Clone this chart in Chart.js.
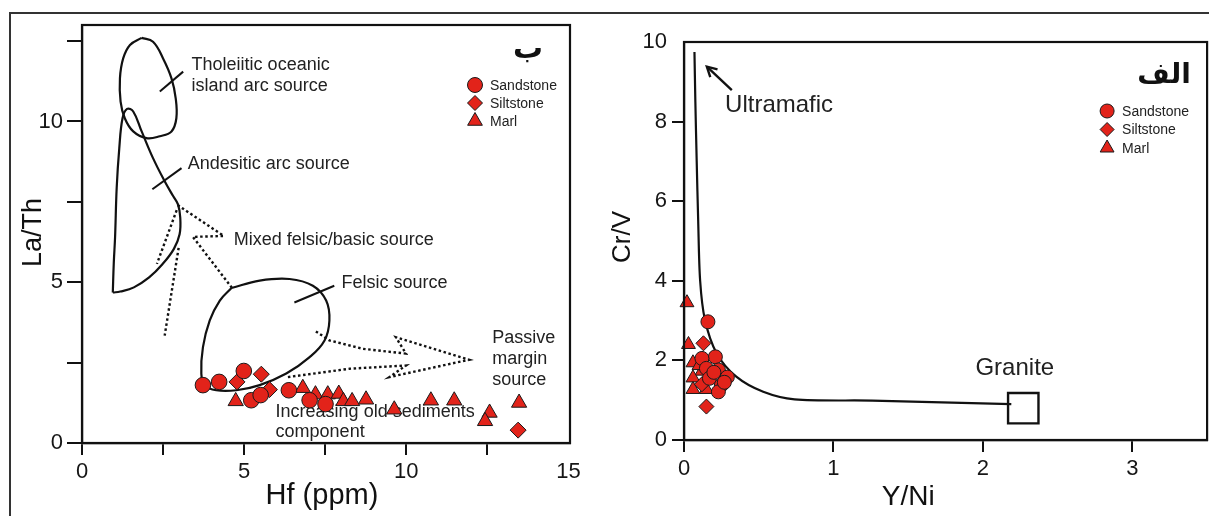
<!DOCTYPE html>
<html><head><meta charset="utf-8">
<script src="https://cdn.jsdelivr.net/npm/chart.js@4.4.1/dist/chart.umd.min.js"></script>
<style>
html,body{margin:0;padding:0;background:#fff;}
#wrap{position:relative;width:1209px;height:516px;overflow:hidden;background:#fff;}
#frame{position:absolute;left:9px;top:12px;width:1400px;height:700px;border-left:2px solid #333;border-top:2px solid #333;}
canvas{position:absolute;top:0;}
#c1{left:0;}
#c2{left:600px;}
</style></head><body>
<div id="wrap"><div id="frame"></div>
<canvas id="c1" width="600" height="516"></canvas>
<canvas id="c2" width="631" height="516"></canvas></div>
<script>
// ================= LEFT PANEL: La/Th vs Hf (ppm) =================
const hfTickLabels = [0, 5, 10, 15];
const laThTickLabels = [0, 5, 10];
const sandstoneHf   = [3.73, 4.23, 4.99, 5.22, 5.51, 6.38, 7.02, 7.51];
const sandstoneLaTh = [1.80, 1.90, 2.24, 1.33, 1.49, 1.64, 1.33, 1.21];
const siltstoneHf   = [4.78, 5.53, 5.78, 13.45];
const siltstoneLaTh = [1.90, 2.14, 1.66, 0.40];
const marlHf   = [4.74, 6.81, 7.20, 7.58, 7.92, 8.06, 8.33, 8.76, 9.63, 10.76, 11.48, 12.57, 12.43, 13.48];
const marlLaTh = [1.30, 1.71, 1.51, 1.51, 1.53, 1.30, 1.30, 1.35, 1.04, 1.32, 1.32, 0.94, 0.68, 1.25];

// source-field outlines (Hf, La/Th)
const tholeiiticField = [[1.84,12.60],[1.48,12.38],[1.27,11.96],[1.17,11.34],[1.19,10.62],[1.32,10.10],[1.58,9.69],[1.99,9.48],[2.40,9.54],[2.76,9.69],[2.91,10.10],[2.89,10.72],[2.76,11.34],[2.50,11.96],[2.19,12.48],[1.84,12.60]];
const andesiticField = [[0.95,4.68],[0.98,5.60],[1.02,6.40],[1.07,7.94],[1.15,9.17],[1.25,10.10],[1.39,10.39],[1.58,10.31],[1.84,9.69],[2.19,8.86],[2.55,8.14],[2.81,7.68],[2.96,7.42],[3.03,7.01],[3.01,6.49],[2.83,6.03],[2.48,5.56],[2.07,5.15],[1.60,4.84],[1.18,4.71],[0.95,4.68]];
const felsicField = [[4.61,4.82],[5.48,5.05],[6.40,5.10],[7.12,4.89],[7.53,4.43],[7.63,3.81],[7.48,3.19],[7.02,2.67],[6.30,2.16],[5.48,1.80],[4.76,1.64],[4.14,1.64],[3.78,1.80],[3.68,2.16],[3.73,2.98],[3.94,3.81],[4.25,4.43],[4.61,4.82]];
const mixedArrow = [[2.95,7.40],[4.37,6.44],[3.42,6.41],[4.62,4.83]];
const mixedDotsA = [[2.92,7.24],[2.31,5.57]];
const mixedDotsB = [[2.98,6.07],[2.55,3.34]];
const passiveArrow = [[6.35,2.05],[8.25,2.31],[9.99,2.41],[9.48,2.05],[11.94,2.59],[9.68,3.29],[9.99,2.78],[8.66,2.93],[7.63,3.19],[7.17,3.50]];
const tholeiiticLeader = [[2.40,10.93],[3.12,11.55]];
const andesiticLeader = [[2.17,7.89],[3.07,8.55]];
const felsicLeader = [[6.55,4.37],[7.78,4.89]];

// ================= RIGHT PANEL: Cr/V vs Y/Ni =================
const yNiTickLabels = [0, 1, 2, 3];
const crVTickLabels = [0, 2, 4, 6, 8, 10];
const sandstoneYNi = [0.16, 0.21, 0.12, 0.15, 0.23, 0.29, 0.25, 0.23, 0.17, 0.20, 0.27];
const sandstoneCrV = [2.97, 2.09, 2.05, 1.80, 1.76, 1.58, 1.38, 1.21, 1.55, 1.70, 1.45];
const siltstoneYNi = [0.13, 0.15, 0.12];
const siltstoneCrV = [2.43, 0.84, 1.40];
const marlYNi = [0.02, 0.03, 0.06, 0.12, 0.06, 0.06, 0.15, 0.10];
const marlCrV = [3.45, 2.40, 1.94, 1.73, 1.56, 1.27, 1.27, 1.87];
const mixingCurve = [[0.070,9.75],[0.076,8.5],[0.085,7.0],[0.095,5.5],[0.108,4.0],[0.140,3.02],[0.218,2.18],[0.350,1.59],[0.530,1.21],[0.740,1.02],[1.260,0.99],[2.190,0.90]];
const graniteYNi = [2.27];
const graniteCrV = [0.80];
const ultramaficArrow = [[0.32,8.79],[0.153,9.38]];

// ================= styling helpers =================
const FONT = '"Liberation Sans", Arial, Helvetica, sans-serif';
const RED = '#e2231a';
const EDGE = '#1a1a1a';
const INK = '#111';

const pts = (xs, ys) => xs.map((x, i) => ({x: x, y: ys[i]}));
const pairs = arr => arr.map(p => ({x: p[0], y: p[1]}));

function series(label, xs, ys, style, r) {
  return {label, data: pts(xs, ys), pointStyle: style, pointRadius: r, pointHoverRadius: r,
    backgroundColor: RED, borderColor: EDGE, borderWidth: 1, showLine: false, order: 0, clip: false};
}
function curve(arr, extra) {
  return Object.assign({data: pairs(arr), showLine: true, pointRadius: 0, pointHoverRadius: 0,
    borderColor: INK, borderWidth: 2.2, tension: 0.4, fill: false, order: 2}, extra || {});
}
function dotted(arr) {
  return curve(arr, {borderDash: [2.5, 2.6], borderWidth: 2.4, tension: 0});
}
function straight(arr) { return curve(arr, {tension: 0, borderWidth: 2}); }

function drawMarker(ctx, style, x, y, r) {
  ctx.beginPath();
  if (style === 'circle') ctx.arc(x, y, r, 0, Math.PI * 2);
  else if (style === 'rectRot') { ctx.moveTo(x - r, y); ctx.lineTo(x, y - r); ctx.lineTo(x + r, y); ctx.lineTo(x, y + r); ctx.closePath(); }
  else { ctx.moveTo(x, y - r); ctx.lineTo(x + r * 0.866, y + r / 2); ctx.lineTo(x - r * 0.866, y + r / 2); ctx.closePath(); }
  ctx.fillStyle = RED; ctx.fill();
  ctx.lineWidth = 1; ctx.strokeStyle = EDGE; ctx.stroke();
}

function decor(cfg) {
  return {
    id: 'decor',
    beforeDatasetsDraw(chart) {
      const ctx = chart.ctx, xs = chart.scales.x, ys = chart.scales.y;
      ctx.save();
      ctx.fillStyle = '#222'; ctx.textBaseline = 'middle'; ctx.textAlign = 'left';
      for (const t of cfg.texts) {
        ctx.font = t.size + 'px ' + FONT;
        ctx.fillText(t.text, xs.getPixelForValue(t.x), ys.getPixelForValue(t.y));
      }
      if (cfg.arrow) {
        const a = cfg.arrow;
        const x1 = xs.getPixelForValue(a[0][0]), y1 = ys.getPixelForValue(a[0][1]);
        const x2 = xs.getPixelForValue(a[1][0]), y2 = ys.getPixelForValue(a[1][1]);
        ctx.strokeStyle = INK; ctx.lineWidth = 2.4; ctx.lineCap = 'butt';
        ctx.beginPath(); ctx.moveTo(x1, y1); ctx.lineTo(x2, y2); ctx.stroke();
        const ang = Math.atan2(y2 - y1, x2 - x1), L = 11;
        ctx.beginPath();
        ctx.moveTo(x2 - L * Math.cos(ang - 0.5), y2 - L * Math.sin(ang - 0.5));
        ctx.lineTo(x2, y2);
        ctx.lineTo(x2 - L * Math.cos(ang + 0.5), y2 - L * Math.sin(ang + 0.5));
        ctx.stroke();
      }
      ctx.restore();
    },
    afterDraw(chart) {
      const ctx = chart.ctx, a = chart.chartArea, xs = chart.scales.x, ys = chart.scales.y;
      ctx.save();
      // plot box
      ctx.strokeStyle = INK; ctx.lineWidth = 2.2;
      ctx.strokeRect(a.left, a.top, a.right - a.left, a.bottom - a.top);
      // axis titles
      ctx.fillStyle = INK; ctx.textAlign = 'center'; ctx.textBaseline = 'middle';
      ctx.font = cfg.xTitle.size + 'px ' + FONT;
      ctx.fillText(cfg.xTitle.text, xs.getPixelForValue(cfg.xTitle.at), a.bottom + cfg.xTitle.offset);
      ctx.save();
      ctx.font = cfg.yTitle.size + 'px ' + FONT;
      ctx.translate(a.left - cfg.yTitle.offset, ys.getPixelForValue(cfg.yTitle.at));
      ctx.rotate(-Math.PI / 2);
      ctx.fillText(cfg.yTitle.text, 0, 0);
      ctx.restore();
      // panel letter (Arabic)
      ctx.font = 'bold ' + cfg.letter.size + 'px "DejaVu Sans", sans-serif';
      ctx.fillStyle = '#111';
      ctx.fillText(cfg.letter.text, a.right - cfg.letter.dx, a.top + cfg.letter.dy);
      // legend
      const L = cfg.legend;
      ctx.font = L.size + 'px ' + FONT; ctx.textAlign = 'left';
      L.items.forEach((it, i) => {
        const y = a.top + L.dy + i * L.gap;
        drawMarker(ctx, it.style, a.right - L.markerDx, y, it.r);
        ctx.fillStyle = '#222';
        ctx.fillText(it.text, a.right - L.textDx, y + 1);
      });
      ctx.restore();
    }
  };
}

function axisCfg(min, max, step, labels, tickLen, pad, hideAt, fitFn) {
  return {
    type: 'linear', min: min, max: max, afterFit: fitFn,
    ticks: {stepSize: step, includeBounds: false, autoSkip: false, maxRotation: 0,
      callback: v => labels.includes(v) ? String(v) : '',
      font: {family: FONT, size: 22}, color: '#161616', padding: pad},
    grid: {drawOnChartArea: false, drawTicks: true, tickLength: tickLen, lineWidth: 2, color: INK,
      tickWidth: 2, tickColor: c => (c.tick && hideAt.includes(c.tick.value)) ? 'rgba(0,0,0,0)' : INK},
    border: {display: true, color: INK, width: 2.2}
  };
}

// ---------- left chart ----------
new Chart(document.getElementById('c1'), {
  type: 'scatter',
  data: {datasets: [
    series('Sandstone', sandstoneHf, sandstoneLaTh, 'circle', 7.8),
    series('Siltstone', siltstoneHf, siltstoneLaTh, 'rectRot', 8),
    series('Marl', marlHf, marlLaTh, 'triangle', 8.8),
    curve(tholeiiticField), curve(andesiticField), curve(felsicField),
    dotted(mixedArrow), dotted(mixedDotsA), dotted(mixedDotsB), dotted(passiveArrow),
    straight(tholeiiticLeader), straight(andesiticLeader), straight(felsicLeader)
  ]},
  options: {
    responsive: false, animation: false, events: [],
    layout: {padding: {top: 25, right: 30, left: 0, bottom: 0}},
    plugins: {legend: {display: false}, tooltip: {enabled: false}},
    scales: {
      x: axisCfg(0, 15.05, 2.5, hfTickLabels, 12, 4, [15], s => { s.height = 73; }),
      y: axisCfg(0, 13, 2.5, laThTickLabels, 15, 4, [], s => { s.width = 82; })
    }
  },
  plugins: [decor({
    texts: [
      {text: 'Tholeiitic oceanic', x: 3.38, y: 11.76, size: 18},
      {text: 'island arc source', x: 3.38, y: 11.11, size: 18},
      {text: 'Andesitic arc source', x: 3.26, y: 8.67, size: 18},
      {text: 'Mixed felsic/basic source', x: 4.68, y: 6.32, size: 18},
      {text: 'Felsic source', x: 8.0, y: 4.98, size: 18},
      {text: 'Passive', x: 12.65, y: 3.25, size: 18},
      {text: 'margin', x: 12.65, y: 2.60, size: 18},
      {text: 'source', x: 12.65, y: 1.95, size: 18},
      {text: 'Increasing old sediments', x: 5.97, y: 0.96, size: 18},
      {text: 'component', x: 5.97, y: 0.34, size: 18}
    ],
    xTitle: {text: 'Hf (ppm)', at: 7.4, offset: 53, size: 29},
    yTitle: {text: 'La/Th', at: 6.55, offset: 48, size: 27},
    letter: {text: 'ب', size: 30, dx: 42, dy: 25},
    legend: {size: 14, markerDx: 95, textDx: 80, dy: 60, gap: 18, items: [
      {text: 'Sandstone', style: 'circle', r: 7.5},
      {text: 'Siltstone', style: 'rectRot', r: 7.5},
      {text: 'Marl', style: 'triangle', r: 8.5}
    ]}
  })]
});

// ---------- right chart ----------
new Chart(document.getElementById('c2'), {
  type: 'scatter',
  data: {datasets: [
    series('Sandstone', sandstoneYNi, sandstoneCrV, 'circle', 7),
    series('Siltstone', siltstoneYNi, siltstoneCrV, 'rectRot', 7.5),
    series('Marl', marlYNi, marlCrV, 'triangle', 8),
    {label: 'Granite', data: pts(graniteYNi, graniteCrV), pointStyle: 'rect', pointRadius: 21.5, pointHoverRadius: 21.5,
      backgroundColor: 'rgba(255,255,255,0)', borderColor: INK, borderWidth: 2.4, showLine: false, order: 1, clip: false},
    curve(mixingCurve, {tension: 0.3})
  ]},
  options: {
    responsive: false, animation: false, events: [],
    layout: {padding: {top: 42, right: 13, left: 0, bottom: 0}},
    plugins: {legend: {display: false}, tooltip: {enabled: false}},
    scales: {
      x: axisCfg(0, 3.5, 1, yNiTickLabels, 12, 4, [], s => { s.height = 76; }),
      y: axisCfg(0, 10, 2, crVTickLabels, 12, 5, [10], s => { s.width = 84; })
    }
  },
  plugins: [decor({
    texts: [
      {text: 'Ultramafic', x: 0.275, y: 8.42, size: 24},
      {text: 'Granite', x: 1.95, y: 1.80, size: 24}
    ],
    arrow: ultramaficArrow,
    xTitle: {text: 'Y/Ni', at: 1.5, offset: 57, size: 28},
    yTitle: {text: 'Cr/V', at: 5.1, offset: 61, size: 26},
    letter: {text: 'الف', size: 28, dx: 43, dy: 34},
    legend: {size: 14, markerDx: 100, textDx: 85, dy: 69, gap: 18.5, items: [
      {text: 'Sandstone', style: 'circle', r: 7},
      {text: 'Siltstone', style: 'rectRot', r: 7},
      {text: 'Marl', style: 'triangle', r: 8}
    ]}
  })]
});
</script>
</body></html>
